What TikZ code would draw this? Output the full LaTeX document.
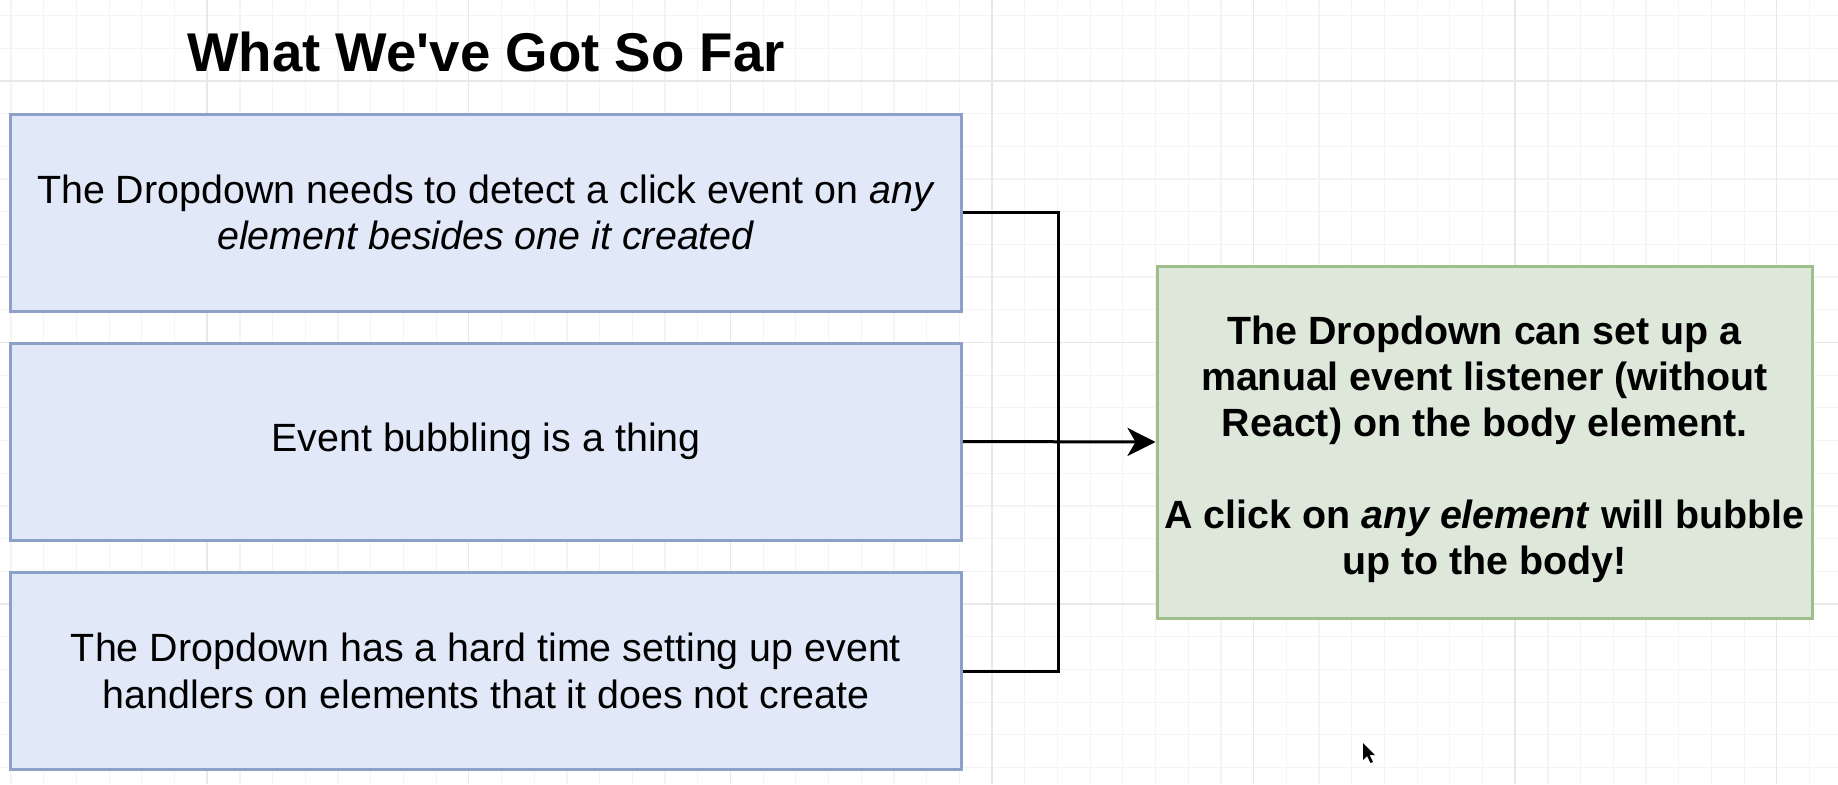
\documentclass[tikz,border=0pt]{standalone}
\usepackage{fontspec}
\setmainfont{Liberation Sans}
\usepackage{xcolor}
\definecolor{Blue}{RGB}{225,233,248}
\definecolor{BlueLine}{RGB}{140,160,200}
\definecolor{Green}{RGB}{222,232,218}
\definecolor{GreenLine}{RGB}{160,190,140}
\definecolor{Grid}{RGB}{244,244,244}
\definecolor{GridMajor}{RGB}{232,232,232}
\definecolor{Black}{RGB}{0,0,0}
\definecolor{White}{RGB}{255,255,255}
\usepackage{tikz}
\usetikzlibrary{arrows.meta}

\tikzset{
	fact/.style={draw=BlueLine, fill=Blue, line width=1.5pt, inner sep=0pt,
		minimum width=475.25pt, minimum height=98.5pt, align=center,
		font=\fontsize{19.7}{23.4}\selectfont},
	result/.style={draw=GreenLine, fill=Green, line width=1.5pt, inner sep=0pt,
		minimum width=327.5pt, minimum height=176pt, align=center,
		font=\fontsize{19.7}{23}\selectfont\bfseries},
	link/.style={draw=Black, line width=1.5pt},
}

\begin{document}
\begin{tikzpicture}[x=0.5pt, y=-0.5pt]
		
		% Background
		\fill[White] (0,0) rectangle (1838,784);
		\useasboundingbox (0,0) rectangle (1838,784);
		\begin{scope}[shift={(11,15.4)}]
			\draw[Grid, line width=0.6pt, step=16.35pt] (-11,-15.4) grid (1827,768.6);
		\end{scope}
		\foreach \gx in {207,468.6,730.2,991.8,1253.4,1515,1776.6}
			\draw[GridMajor, line width=0.7pt] (\gx,0) -- (\gx,784);
		\foreach \gy in {80.8,342.4,604}
			\draw[GridMajor, line width=0.7pt] (0,\gy) -- (1838,\gy);
		
		% Title
		\node[anchor=base, font=\fontsize{27.3}{32}\selectfont\bfseries] (title) at (486,71) {What We\textquotesingle ve Got So Far};
		
		% Rectangle
		\node[fact] (detect) at (486,212.5) {The Dropdown needs to detect a click event on \textit{any}\\ \textit{element besides one it created}};
		\node[fact] (bubbling) at (486,441.5) {Event bubbling is a thing};
		\node[fact] (handlers) at (486,671) {The Dropdown has a hard time setting up event\\ handlers on elements that it does not create};
		\node[result] (listener) at (1484.5,442) {\rule{0pt}{21.5pt}The Dropdown can set up a\\ manual event listener (without\\ React) on the body element.\\[23pt] A click on \textit{any element} will bubble\\ up to the body!};
		
		% Lines
		\coordinate (join) at (1058,441.5);
		\draw[link] (detect.east) -| (join);
		\draw[link] (handlers.east) -| (join);
		\draw[link, -{Stealth[length=14pt, width=14pt, inset=4pt]}] (bubbling.east) -- (listener.west);
		
		% Cursor
		\fill[Black] (1363,743) -- ++(0,17) -- ++(4,-4) -- ++(3.5,7) -- ++(2.5,-1.2) -- ++(-3.5,-6.8) -- ++(5.5,0) -- cycle;
		
	\end{tikzpicture}
\end{document}
